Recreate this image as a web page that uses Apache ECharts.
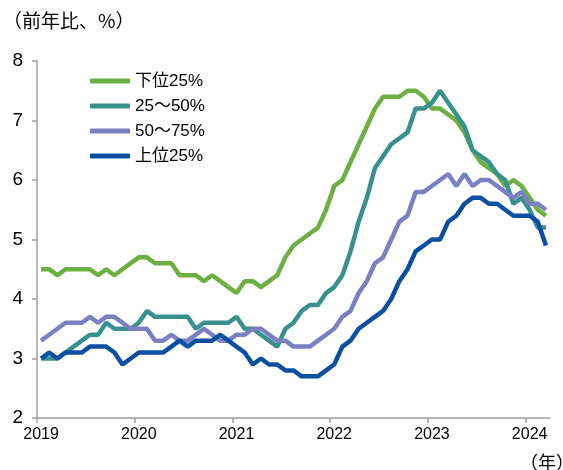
<!DOCTYPE html>
<html>
<head>
<meta charset="utf-8">
<script src="https://cdn.jsdelivr.net/npm/echarts@6/dist/echarts.min.js"></script>
<style>
  html, body { margin: 0; padding: 0; background: #fff; }
  #chart { width: 563px; height: 470px; }
</style>
</head>
<body>
<div id="chart"></div>
<script>
// 月次データ（2019年1月～2024年3月）
const startYear = 2019;
const yearTicks = [0, 12, 24, 36, 48, 60];
const seriesNames = ['下位25%', '25～50%', '50～75%', '上位25%'];
const colors = ['#6bb040', '#38908f', '#7a80c2', '#0b4fa2'];

const lower25 = [
  4.5, 4.5, 4.4, 4.5, 4.5, 4.5, 4.5, 4.4, 4.5, 4.4, 4.5, 4.6,
  4.7, 4.7, 4.6, 4.6, 4.6, 4.4, 4.4, 4.4, 4.3, 4.4, 4.3, 4.2,
  4.1, 4.3, 4.3, 4.2, 4.3, 4.4, 4.7, 4.9, 5.0, 5.1, 5.2, 5.5,
  5.9, 6.0, 6.3, 6.6, 6.9, 7.2, 7.4, 7.4, 7.4, 7.5, 7.5, 7.4,
  7.2, 7.2, 7.1, 7.0, 6.8, 6.5, 6.3, 6.2, 6.1, 5.9, 6.0, 5.9,
  5.7, 5.5, 5.4
];
const mid25to50 = [
  3.0, 3.0, 3.0, 3.1, 3.2, 3.3, 3.4, 3.4, 3.6, 3.5, 3.5, 3.5,
  3.6, 3.8, 3.7, 3.7, 3.7, 3.7, 3.7, 3.5, 3.6, 3.6, 3.6, 3.6,
  3.7, 3.5, 3.5, 3.4, 3.3, 3.2, 3.5, 3.6, 3.8, 3.9, 3.9, 4.1,
  4.2, 4.4, 4.8, 5.3, 5.7, 6.2, 6.4, 6.6, 6.7, 6.8, 7.2, 7.2,
  7.3, 7.5, 7.3, 7.1, 6.9, 6.5, 6.4, 6.3, 6.1, 6.0, 5.6, 5.7,
  5.5, 5.2, 5.2
];
const mid50to75 = [
  3.3, 3.4, 3.5, 3.6, 3.6, 3.6, 3.7, 3.6, 3.7, 3.7, 3.6, 3.5,
  3.5, 3.5, 3.3, 3.3, 3.4, 3.3, 3.3, 3.4, 3.5, 3.4, 3.3, 3.3,
  3.4, 3.4, 3.5, 3.5, 3.4, 3.3, 3.3, 3.2, 3.2, 3.2, 3.3, 3.4,
  3.5, 3.7, 3.8, 4.1, 4.3, 4.6, 4.7, 5.0, 5.3, 5.4, 5.8, 5.8,
  5.9, 6.0, 6.1, 5.9, 6.1, 5.9, 6.0, 6.0, 5.9, 5.8, 5.7, 5.8,
  5.6, 5.6, 5.5
];
const upper25 = [
  3.0, 3.1, 3.0, 3.1, 3.1, 3.1, 3.2, 3.2, 3.2, 3.1, 2.9, 3.0,
  3.1, 3.1, 3.1, 3.1, 3.2, 3.3, 3.2, 3.3, 3.3, 3.3, 3.4, 3.3,
  3.2, 3.1, 2.9, 3.0, 2.9, 2.9, 2.8, 2.8, 2.7, 2.7, 2.7, 2.8,
  2.9, 3.2, 3.3, 3.5, 3.6, 3.7, 3.8, 4.0, 4.3, 4.5, 4.8, 4.9,
  5.0, 5.0, 5.3, 5.4, 5.6, 5.7, 5.7, 5.6, 5.6, 5.5, 5.4, 5.4,
  5.4, 5.3, 4.9
];

const allData = [lower25, mid25to50, mid50to75, upper25];
const font = "'Liberation Sans', 'Noto Sans CJK JP', sans-serif";

// 月の中央にプロット
function toPoints(arr) {
  return arr.map((v, i) => [i + 0.5, v]);
}

const chart = echarts.init(document.getElementById('chart'));

const option = {
  backgroundColor: '#fff',
  animation: false,
  grid: { left: 37, right: 13, top: 61, bottom: 52 },
  legend: {
    orient: 'vertical',
    left: 90,
    top: 72,
    padding: 0,
    icon: 'roundRect',
    itemWidth: 40,
    itemHeight: 5,
    itemGap: 7,
    data: seriesNames,
    textStyle: { fontFamily: font, fontSize: 17, color: '#000', lineHeight: 18 }
  },
  xAxis: {
    type: 'value',
    min: 0,
    max: 63,
    splitLine: { show: false },
    axisLine: { lineStyle: { color: '#a0a0a0', width: 1.5 } },
    axisTick: { customValues: yearTicks, length: 5, lineStyle: { color: '#a0a0a0', width: 1.5 } },
    axisLabel: {
      customValues: yearTicks.map(t => t + 0.5),
      formatter: v => String(startYear + Math.floor(v / 12)),
      fontFamily: font,
      fontSize: 16,
      color: '#000',
      margin: 9
    }
  },
  yAxis: {
    type: 'value',
    min: 2,
    max: 8,
    interval: 1,
    splitLine: { show: false },
    axisLine: { show: true, lineStyle: { color: '#a0a0a0', width: 1.5 } },
    axisTick: { show: true, length: 5, lineStyle: { color: '#a0a0a0', width: 1.5 } },
    axisLabel: { fontFamily: font, fontSize: 19, color: '#000', margin: 14 }
  },
  graphic: [
    {
      type: 'text', left: 3, top: 11,
      style: { text: '（前年比、%）', font: "19px 'Noto Sans CJK JP', sans-serif", fill: '#000' }
    },
    {
      type: 'text', left: 520, top: 453,
      style: { text: '（年）', font: "18px 'Noto Sans CJK JP', sans-serif", fill: '#000' }
    }
  ],
  series: seriesNames.map((name, k) => ({
    name: name,
    type: 'line',
    data: toPoints(allData[k]),
    showSymbol: false,
    color: colors[k],
    lineStyle: { width: 4.5, color: colors[k] }
  }))
};

chart.setOption(option);
</script>
</body>
</html>
